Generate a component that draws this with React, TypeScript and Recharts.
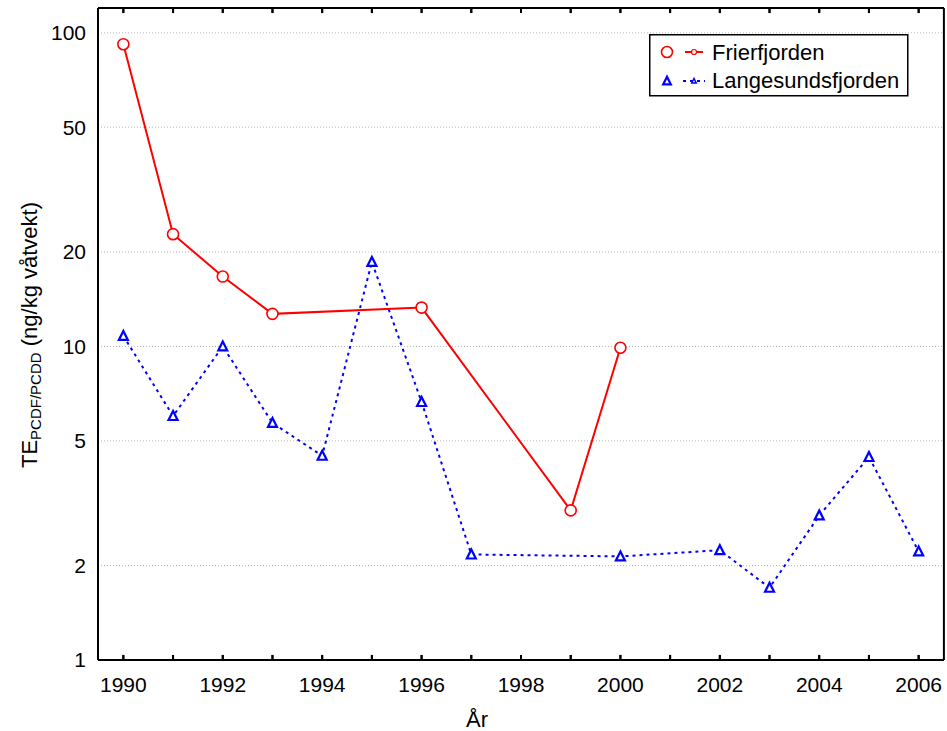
import React from "react";
import {
  LineChart,
  Line,
  XAxis,
  YAxis,
  CartesianGrid,
  ReferenceLine,
} from "recharts";

const FONT = "'Liberation Sans', Arial, Helvetica, sans-serif";

// Frierfjorden
const friYears = [1990, 1991, 1992, 1993, 1996, 1999, 2000];
const friValues = [92, 22.8, 16.7, 12.7, 13.3, 3.0, 9.9];

// Langesundsfjorden
const lanYears = [1990, 1991, 1992, 1993, 1994, 1995, 1996, 1997, 2000, 2002, 2003, 2004, 2005, 2006];
const lanValues = [10.8, 6.0, 10.0, 5.7, 4.48, 18.6, 6.65, 2.17, 2.14, 2.24, 1.7, 2.89, 4.44, 2.22];

const xTicks = [1990, 1991, 1992, 1993, 1994, 1995, 1996, 1997, 1998, 1999, 2000, 2001, 2002, 2003, 2004, 2005, 2006];
const yTicks = [1, 2, 5, 10, 20, 50, 100];
const X_MIN = 1989.49;
const X_MAX = 2006.51;
const Y_MIN = 1;
const Y_MAX = 120;
const TICK_FACTOR = 1.038;

const seriesNames = ["Frierfjorden", "Langesundsfjorden"];

const friData = friYears.map((year, i) => ({ year, value: friValues[i] }));
const lanData = lanYears.map((year, i) => ({ year, value: lanValues[i] }));

const RED = "#ff0000";
const BLUE = "#0000ff";

const CircleDot = (props: any) => {
  const { cx, cy, index } = props;
  if (cx == null || cy == null) return <g key={"c" + index} />;
  return <circle key={"c" + index} cx={cx} cy={cy} r={5.5} fill="#fff" stroke={RED} strokeWidth={1.6} />;
};

const triPath = (cx: number, cy: number, s: number) =>
  `M${cx},${cy - 5 * s} L${cx - 4.5 * s},${cy + 4 * s} L${cx + 4.5 * s},${cy + 4 * s} Z`;

const TriDot = (props: any) => {
  const { cx, cy, index } = props;
  if (cx == null || cy == null) return <g key={"t" + index} />;
  return <path key={"t" + index} d={triPath(cx, cy, 1)} fill="#fff" stroke={BLUE} strokeWidth={2.2} />;
};

const LegendBox = () => (
  <svg
    width={260}
    height={63}
    style={{ position: "absolute", left: 649, top: 34, display: "block", overflow: "visible" }}
  >
    <rect x={0.75} y={0.75} width={258} height={61} fill="#fff" stroke="#000" strokeWidth={1.5} />
    <circle cx={18} cy={18} r={5.5} fill="#fff" stroke={RED} strokeWidth={1.6} />
    <line x1={36} y1={18} x2={54} y2={18} stroke={RED} strokeWidth={2} />
    <circle cx={45} cy={18} r={2.5} fill="#fff" stroke={RED} strokeWidth={1.2} />
    <text x={63} y={25.5} fontSize={22} fontFamily={FONT} fill="#000">{seriesNames[0]}</text>
    <path d={triPath(18, 47, 0.85)} fill="#fff" stroke={BLUE} strokeWidth={2.2} />
    <line x1={34} y1={47} x2={56} y2={47} stroke={BLUE} strokeWidth={2} strokeDasharray="3 4" />
    <path d={triPath(45, 47, 0.5)} fill="#fff" stroke={BLUE} strokeWidth={1.5} />
    <text x={63} y={54} fontSize={22} fontFamily={FONT} fill="#000">{seriesNames[1]}</text>
  </svg>
);

const YTitle = () => (
  <text
    transform="rotate(-90)"
    x={-335}
    y={37}
    textAnchor="middle"
    fontSize={22}
    fontFamily={FONT}
    fill="#000"
  >
    TE
    <tspan fontSize={15} dy={4}>PCDF/PCDD</tspan>
    <tspan dy={-4}> (ng/kg våtvekt)</tspan>
  </text>
);

const XTitle = () => (
  <text x={477} y={727} textAnchor="middle" fontSize={22} fontFamily={FONT} fill="#000">
    År
  </text>
);

const evenYear = (v: number) => (v % 2 === 0 ? String(v) : "");
const noLabel = () => "";

export default function App() {
  return (
    <div style={{ position: "absolute", left: 0, top: 0, width: 947, height: 731, background: "#fff" }}>
      <LineChart width={947} height={731} margin={{ top: 7, right: 3, bottom: 0, left: 0 }}>
        <CartesianGrid vertical={false} stroke="#b8b8b8" strokeDasharray="1 2" />
        <XAxis
          dataKey="year"
          type="number"
          domain={[X_MIN, X_MAX]}
          allowDataOverflow
          ticks={xTicks}
          interval={0}
          height={71}
          tickSize={-5}
          tickMargin={22}
          tickFormatter={evenYear}
          tick={{ fill: "#000", fontSize: 21, fontFamily: FONT }}
          tickLine={{ stroke: "#000", strokeWidth: 2 }}
          axisLine={{ stroke: "#000", strokeWidth: 2 }}
          label={{ content: XTitle }}
        />
        <XAxis
          xAxisId="top"
          orientation="top"
          dataKey="year"
          type="number"
          domain={[X_MIN, X_MAX]}
          allowDataOverflow
          ticks={xTicks}
          interval={0}
          height={1}
          tickSize={-5}
          tickFormatter={noLabel}
          tickLine={{ stroke: "#000", strokeWidth: 2 }}
          axisLine={{ stroke: "#000", strokeWidth: 2 }}
        />
        <YAxis
          type="number"
          scale="log"
          domain={[Y_MIN, Y_MAX]}
          allowDataOverflow
          ticks={yTicks}
          interval={0}
          width={98}
          tickSize={0}
          tickMargin={12}
          tickLine={false}
          axisLine={{ stroke: "#000", strokeWidth: 2 }}
          tick={{ fill: "#000", fontSize: 21, fontFamily: FONT }}
          label={{ content: YTitle }}
        />
        <ReferenceLine y={Y_MAX / 1.0002} stroke="#000" strokeWidth={2} />
        <ReferenceLine x={X_MAX - 0.002} stroke="#000" strokeWidth={2} />
        {xTicks.map((yr) => (
          <ReferenceLine
            key={"b" + yr}
            segment={[{ x: yr, y: Y_MIN * 1.0002 }, { x: yr, y: Y_MIN * TICK_FACTOR }]}
            stroke="#000"
            strokeWidth={2}
          />
        ))}
        {xTicks.map((yr) => (
          <ReferenceLine
            key={"t" + yr}
            segment={[{ x: yr, y: Y_MAX / TICK_FACTOR }, { x: yr, y: Y_MAX / 1.0002 }]}
            stroke="#000"
            strokeWidth={2}
          />
        ))}
        <Line
          xAxisId="top"
          data={lanData}
          dataKey="value"
          stroke="none"
          dot={false}
          activeDot={false}
          legendType="none"
          isAnimationActive={false}
        />
        <Line
          data={lanData}
          dataKey="value"
          name={seriesNames[1]}
          stroke={BLUE}
          strokeWidth={2}
          strokeDasharray="3 4"
          dot={TriDot}
          activeDot={false}
          isAnimationActive={false}
        />
        <Line
          data={friData}
          dataKey="value"
          name={seriesNames[0]}
          stroke={RED}
          strokeWidth={2}
          dot={CircleDot}
          activeDot={false}
          isAnimationActive={false}
        />
      </LineChart>
      <LegendBox />
    </div>
  );
}
